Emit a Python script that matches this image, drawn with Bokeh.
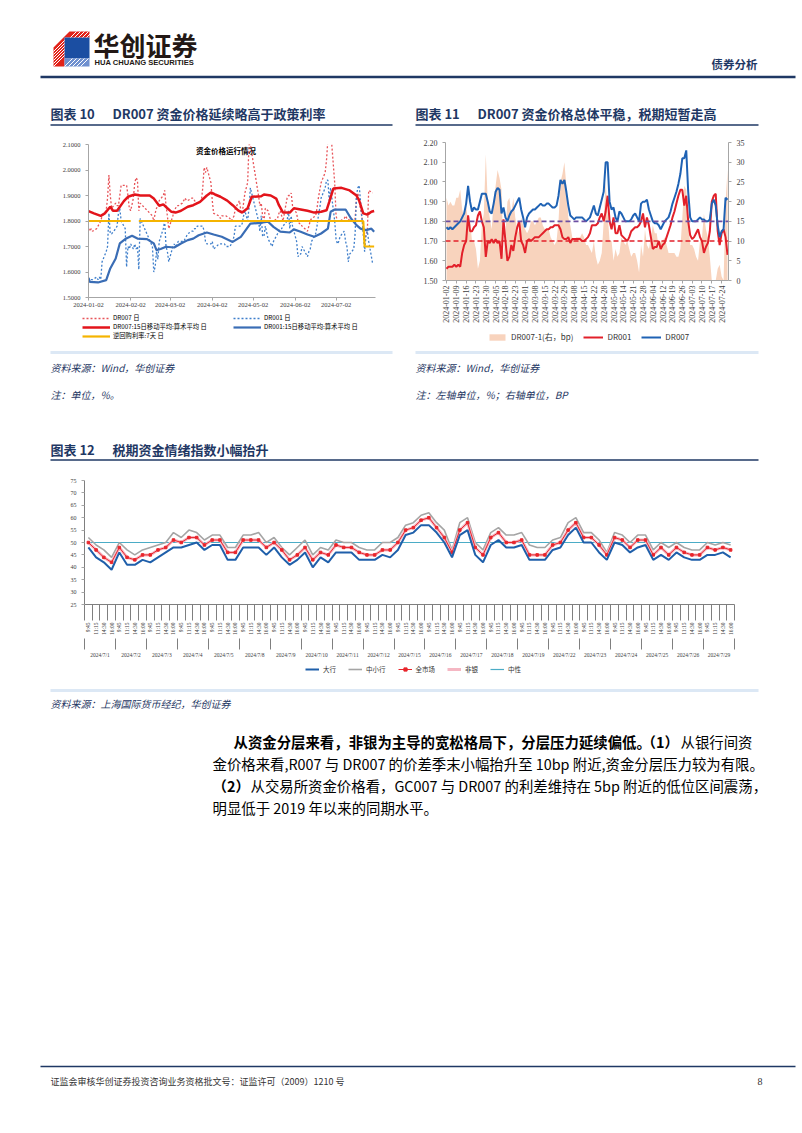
import math
import numpy as np
import pandas as pd
from bokeh.plotting import figure
from bokeh.models import (Range1d, LinearAxis, FixedTicker, Legend, LegendItem, Span,
                          DatetimeTickFormatter, NumeralTickFormatter, Label)
from bokeh.layouts import column, row
from bokeh.embed import file_html
from bokeh.resources import INLINE
from bokeh.core.properties import value

# ------------------------------------------------------------------ data
holidays = ["2024-02-12", "2024-02-13", "2024-02-14", "2024-02-15", "2024-02-16",
            "2024-04-04", "2024-04-05", "2024-05-01", "2024-05-02", "2024-05-03", "2024-06-10"]
makeup_days = ["2024-02-04", "2024-02-18", "2024-04-07", "2024-04-28", "2024-05-11"]

dr007 = [1.77, 1.76, 1.77, 1.76, 1.77, 1.78, 1.79, 1.80, 1.82, 1.84,
         1.89, 1.98, 1.90, 1.85, 1.87, 1.86, 1.86, 1.90, 1.94, 1.94,
         1.94, 1.90, 1.85, 1.84, 1.89, 1.95, 1.97, 1.96, 1.84, 1.87,
         1.82, 1.80, 1.83, 1.85, 1.86, 1.88, 1.90, 1.92, 1.86, 1.82,
         1.77, 1.82, 1.84, 1.85, 1.86, 1.86, 1.87, 1.88, 1.89, 1.88,
         1.88, 1.89, 1.89, 1.88, 1.87, 1.87, 1.88, 1.93, 2.01, 1.99,
         2.01, 1.95, 1.88, 1.83, 1.82, 1.81, 1.82, 1.82, 1.82, 1.82,
         1.81, 1.80, 1.81, 1.82, 1.85, 1.88, 1.84, 1.83, 1.87, 1.91,
         1.95, 2.10, 2.10, 1.90, 1.86, 1.87, 1.82, 1.80, 1.85, 1.84,
         1.82, 1.80, 1.80, 1.80, 1.81, 1.83, 1.84, 1.82, 1.80, 1.89,
         1.90, 1.90, 1.91, 1.86, 1.83, 1.80, 1.79, 1.79, 1.78, 1.76,
         1.78, 1.80, 1.81, 1.82, 1.85, 1.89, 1.92, 1.95, 1.99, 2.04,
         2.12, 2.12, 2.16, 1.95, 1.82, 1.80, 1.80, 1.80, 1.81, 1.82,
         1.81, 1.81, 1.80, 1.80, 1.81, 1.89, 1.91, 1.88, 1.78, 1.72,
         1.75, 1.76, 1.92, 1.91]

dr001 = [1.56, 1.57, 1.57, 1.57, 1.58, 1.57, 1.58, 1.57, 1.64, 1.68,
         1.70, 1.83, 1.75, 1.75, 1.77, 1.78, 1.83, 1.85, 1.80, 1.77,
         1.62, 1.70, 1.69, 1.71, 1.69, 1.71, 1.69, 1.70, 1.61, 1.81,
         1.70, 1.60, 1.62, 1.68, 1.65, 1.72, 1.77, 1.80, 1.70, 1.68,
         1.64, 1.70, 1.71, 1.70, 1.71, 1.72, 1.72, 1.72, 1.73, 1.74,
         1.75, 1.76, 1.76, 1.77, 1.77, 1.78, 1.78, 1.78, 1.76, 1.72,
         1.71, 1.71, 1.72, 1.69, 1.71, 1.71, 1.71, 1.71, 1.71, 1.70,
         1.70, 1.71, 1.72, 1.74, 1.78, 1.78, 1.78, 1.79, 1.82, 1.84,
         1.80, 1.85, 1.93, 1.80, 1.76, 1.82, 1.74, 1.74, 1.78, 1.73,
         1.72, 1.71, 1.70, 1.72, 1.75, 1.76, 1.77, 1.77, 1.78, 1.80,
         1.84, 1.77, 1.82, 1.78, 1.72, 1.66, 1.67, 1.67, 1.70, 1.66,
         1.68, 1.69, 1.72, 1.75, 1.78, 1.82, 1.85, 1.89, 1.93, 1.96,
         1.96, 1.88, 1.93, 1.80, 1.73, 1.71, 1.72, 1.74, 1.76, 1.72,
         1.70, 1.64, 1.67, 1.69, 1.75, 1.90, 1.93, 1.94, 1.75, 1.68,
         1.74, 1.76, 1.72, 1.63]

ma7_dates = ["2024-01-02", "2024-01-06", "2024-01-11", "2024-01-14", "2024-01-18", "2024-01-20",
             "2024-01-23", "2024-01-28", "2024-01-31", "2024-02-05", "2024-02-09", "2024-02-16",
             "2024-02-19", "2024-02-23", "2024-02-26", "2024-02-29", "2024-03-03", "2024-03-06",
             "2024-03-10", "2024-03-15", "2024-03-19", "2024-03-24", "2024-03-29", "2024-04-01",
             "2024-04-04", "2024-04-08", "2024-04-13", "2024-04-17", "2024-04-21", "2024-04-24",
             "2024-04-28", "2024-05-01", "2024-05-08", "2024-05-10", "2024-05-15", "2024-05-19",
             "2024-05-21", "2024-05-24", "2024-05-29", "2024-06-01", "2024-06-06", "2024-06-11",
             "2024-06-16", "2024-06-21", "2024-06-25", "2024-06-27", "2024-06-30", "2024-07-06",
             "2024-07-12", "2024-07-17", "2024-07-19", "2024-07-22", "2024-07-25", "2024-07-28",
             "2024-07-30"]
ma7_vals = [1.839, 1.830, 1.820, 1.830, 1.856, 1.840,
            1.840, 1.878, 1.895, 1.904, 1.900, 1.900,
            1.888, 1.860, 1.865, 1.850, 1.836, 1.833,
            1.840, 1.856, 1.862, 1.875, 1.900, 1.912,
            1.904, 1.895, 1.880, 1.862, 1.842, 1.833,
            1.850, 1.895, 1.897, 1.904, 1.900, 1.888,
            1.862, 1.833, 1.833, 1.850, 1.845, 1.840,
            1.833, 1.836, 1.842, 1.875, 1.927, 1.930,
            1.920, 1.900, 1.880, 1.830, 1.825, 1.836,
            1.839]

ma1_dates = ["2024-01-02", "2024-01-03", "2024-01-09", "2024-01-15", "2024-01-18", "2024-01-22",
             "2024-01-25", "2024-01-29", "2024-02-03", "2024-02-07", "2024-02-14", "2024-02-19",
             "2024-02-21", "2024-02-24", "2024-02-28", "2024-03-05", "2024-03-10", "2024-03-15",
             "2024-03-19", "2024-03-23", "2024-03-29", "2024-04-03", "2024-04-09", "2024-04-17",
             "2024-04-23", "2024-04-30", "2024-05-08", "2024-05-13", "2024-05-17", "2024-05-22",
             "2024-05-29", "2024-06-01", "2024-06-06", "2024-06-11", "2024-06-16", "2024-06-21",
             "2024-06-26", "2024-06-28", "2024-07-01", "2024-07-09", "2024-07-13", "2024-07-17",
             "2024-07-20", "2024-07-24", "2024-07-28", "2024-07-30"]
ma1_vals = [1.577, 1.561, 1.559, 1.568, 1.614, 1.653,
            1.712, 1.729, 1.742, 1.731, 1.729, 1.712,
            1.686, 1.690, 1.699, 1.696, 1.712, 1.725,
            1.731, 1.744, 1.755, 1.747, 1.738, 1.718,
            1.738, 1.790, 1.793, 1.797, 1.777, 1.758,
            1.755, 1.767, 1.758, 1.747, 1.738, 1.751,
            1.770, 1.836, 1.845, 1.845, 1.810, 1.784,
            1.770, 1.764, 1.770, 1.758]

rr_dates = ["2024-01-02", "2024-02-02", "2024-02-05", "2024-02-08", "2024-07-22", "2024-07-23", "2024-07-30"]
rr_vals = [1.80, 1.80, float("nan"), 1.80, 1.80, 1.70, 1.70]

c10_ticks = ["2024-01-02", "2024-02-02", "2024-03-02", "2024-04-02",
             "2024-05-02", "2024-06-02", "2024-07-02"]

policy_dr007 = 1.80
policy_dr001 = 1.70

c12_days = ["2024/7/1", "2024/7/2", "2024/7/3", "2024/7/4", "2024/7/5", "2024/7/8", "2024/7/9",
            "2024/7/10", "2024/7/11", "2024/7/12", "2024/7/15", "2024/7/16", "2024/7/17",
            "2024/7/18", "2024/7/19", "2024/7/22", "2024/7/23", "2024/7/24", "2024/7/25",
            "2024/7/26", "2024/7/29"]
c12_times = ["9:45", "11:15", "14:30", "16:00"]

big = [48, 44, 42, 39, 46, 41, 41, 43, 42, 44,
       46, 48, 48, 49, 50, 47, 49, 49, 43, 43,
       48, 48, 48, 45, 48, 44, 41, 43, 46, 40,
       44, 42, 46, 46, 46, 43, 43, 43, 45, 44,
       47, 53, 54, 57, 57, 54, 50, 44, 53, 55,
       45, 42, 49, 51, 48, 48, 49, 43, 43, 43,
       47, 48, 53, 56, 50, 50, 46, 43, 50, 49,
       46, 48, 49, 43, 45, 43, 46, 44, 43, 43,
       45, 45, 46, 44]
mid = [52, 49, 47, 44, 50, 47, 45, 47, 48, 49,
       50, 54, 52, 55, 54, 51, 53, 53, 48, 48,
       53, 53, 54, 50, 52, 48, 45, 48, 51, 45,
       48, 47, 51, 50, 50, 48, 47, 47, 50, 50,
       52, 57, 58, 61, 62, 58, 55, 47, 58, 60,
       50, 47, 54, 56, 53, 53, 54, 49, 48, 48,
       51, 52, 58, 60, 54, 54, 51, 46, 54, 53,
       50, 53, 53, 47, 50, 48, 50, 48, 47, 47,
       50, 49, 50, 49]
allm = [50, 47, 44, 42, 48, 44, 43, 45, 45, 47,
        48, 51, 50, 52, 52, 49, 51, 51, 46, 46,
        51, 51, 51, 48, 50, 47, 43, 45, 48, 43,
        46, 45, 49, 48, 48, 46, 45, 45, 47, 47,
        50, 55, 56, 59, 60, 56, 52, 46, 55, 58,
        48, 45, 52, 54, 50, 50, 51, 45, 45, 45,
        49, 50, 55, 58, 52, 52, 49, 45, 52, 51,
        48, 51, 51, 45, 48, 45, 48, 46, 45, 45,
        48, 47, 48, 47]
nonbank = [50, 47, 44, 42, 48, 44, 43, 45, 45, 47,
           48, 51, 50, 52, 52, 49, 51, 51, 46, 46,
           51, 51, 51, 48, 50, 47, 43, 45, 48, 43,
           46, 45, 49, 48, 48, 46, 45, 45, 47, 47,
           50, 55, 56, 59, 60, 56, 52, 46, 55, 58,
           48, 45, 52, 54, 50, 50, 51, 45, 45, 45,
           49, 50, 55, 58, 52, 52, 49, 45, 52, 51,
           48, 51, 51, 45, 48, 45, 48, 46, 45, 45,
           48, 47, 48, 47]
ref_level = 50

# ------------------------------------------------------------------ style
CJK = "Noto Sans CJK SC"
SERIF = "Liberation Serif"
NAVY = "#1F3864"
AX = "#A6A6A6"
LBL = "#404040"
PW = 802

ST_D7 = dict(line_color="#E8555A", line_width=1.3, line_dash="2 2")
ST_D1 = dict(line_color="#3F7FCB", line_width=1.3, line_dash="2 2")
ST_M7 = dict(line_color="#E3141B", line_width=2.5)
ST_M1 = dict(line_color="#3A6DB5", line_width=2.2)
ST_RR = dict(line_color="#F5B400", line_width=2.2)
ST_SP = dict(fill_color="#F8D3BD")
ST_L1 = dict(line_color="#E2202A", line_width=2)
ST_L7 = dict(line_color="#1F62B4", line_width=2)
ST_REF = dict(line_color="#4BACC6", line_width=1.2)
ST_MID = dict(line_color="#A5A5A5", line_width=1.6)
ST_NB = dict(line_color="#F5B7C3", line_width=3)
ST_ALL = dict(line_color="#E8262C", line_width=1)
ST_ALLM = dict(marker="square", size=2.5, fill_color="#E8262C", line_color="#E8262C")
ST_BIG = dict(line_color="#1F5FAA", line_width=2)

# legend-only strips draw their swatches from renderers whose points sit outside the visible range
OFF_X = [0.0, 1.0]
OFF_Y = [-5.0, -5.0]


def bare_fig(w, h, xr, yr):
    f = figure(width=w, height=h, x_range=xr, y_range=yr,
               output_backend="svg", toolbar_location=None,
               x_axis_location=None, y_axis_location=None, min_border=0,
               background_fill_color="white", border_fill_color="white",
               outline_line_color=None)
    f.grid.visible = False
    return f


def page_fig(y0, y1):
    return bare_fig(PW, y1 - y0, Range1d(0, PW), Range1d(y1, y0))


def txt(f, x, y, s, size, color="#000000", style="normal", font=CJK, align="left"):
    f.text(x=[x], y=[y], text=[s], text_font=value(font), text_font_size=size,
           text_color=color, text_font_style=style, text_baseline="middle", text_align=align)


def hline(f, x0, x1, y, color, width):
    f.segment(x0=[x0], y0=[y], x1=[x1], y1=[y], line_color=color, line_width=width)


def style_axis(ax, size="6.5px"):
    ax.axis_line_color = AX
    ax.major_tick_line_color = AX
    ax.major_tick_out = 3
    ax.major_tick_in = 0
    ax.minor_tick_line_color = None
    ax.major_label_text_font = SERIF
    ax.major_label_text_font_size = size
    ax.major_label_text_color = LBL


def legend(items, loc, font_size, glyph_w, orientation="vertical", spacing=0, standoff=3, color="#000000"):
    return Legend(items=items, location=loc, orientation=orientation,
                  label_text_font=CJK, label_text_font_size=font_size, label_text_color=color,
                  glyph_width=glyph_w, glyph_height=8, label_height=8, label_width=10,
                  label_standoff=standoff, spacing=spacing, padding=0, margin=0,
                  border_line_color=None, background_fill_alpha=0)


# ------------------------------------------------------------------ header (page y 0..130)
hdr = page_fig(0, 130)
hdr.patch(x=[53, 69, 89, 89, 64, 64, 53], y=[47, 31, 31, 37, 37, 66, 66], fill_color="#E2231A", line_color=None)
hdr.patch(x=[64, 89, 89, 64], y=[37, 37, 58, 58], fill_color="#1B4EA2", line_color=None)
hdr.patch(x=[64, 89, 89, 64], y=[58, 58, 66, 66], fill_color="#6F90CF", line_color=None)
hdr.segment(x0=[53] * 6, y0=[51, 54, 57, 60, 63, 66], x1=[64] * 6, y1=[40, 43, 46, 49, 52, 55],
            line_color="white", line_width=1)
hdr.segment(x0=[70, 74, 78, 82, 86], y0=[37] * 5, x1=[76, 80, 84, 88, 92], y1=[31] * 5,
            line_color="white", line_width=1)
hdr.segment(x0=[64, 68, 72, 76, 80], y0=[66] * 5, x1=[72, 76, 80, 84, 88], y1=[58] * 5,
            line_color="white", line_width=1)
txt(hdr, 93, 44, "华创证券", "26px", "#231815", "bold")
txt(hdr, 94, 62, "HUA CHUANG SECURITIES", "7.6px", "#231815", "bold", "Liberation Sans")
txt(hdr, 711, 63, "债券分析", "11.5px", NAVY, "bold")
hline(hdr, 40, 795, 76.5, NAVY, 2.5)
txt(hdr, 50, 113, "图表 10", "13px", NAVY, "bold")
txt(hdr, 112, 113, "DR007 资金价格延续略高于政策利率", "13px", NAVY, "bold")
txt(hdr, 415, 113, "图表 11", "13px", NAVY, "bold")
txt(hdr, 477, 113, "DR007 资金价格总体平稳，税期短暂走高", "13px", NAVY, "bold")
hline(hdr, 50, 392, 124.5, NAVY, 1.5)
hline(hdr, 415, 758, 124.5, NAVY, 1.5)

# ------------------------------------------------------------------ chart 10 (x 0..400, y 130..311)
days = (pd.bdate_range("2024-01-02", "2024-07-29")
        .difference(pd.to_datetime(holidays))
        .union(pd.to_datetime(makeup_days))
        .sort_values())

c10 = figure(width=400, height=181, x_axis_type="datetime",
             x_range=Range1d(pd.Timestamp("2024-01-02"), pd.Timestamp("2024-07-31")),
             y_range=Range1d(1.5, 2.1),
             min_border_left=88, min_border_right=25, min_border_top=14, min_border_bottom=14,
             output_backend="svg", toolbar_location=None, outline_line_color=None)
c10.grid.visible = False
c10.line(days, dr007, **ST_D7)
c10.line(days, dr001, **ST_D1)
c10.line(pd.to_datetime(ma7_dates), ma7_vals, **ST_M7)
c10.line(pd.to_datetime(ma1_dates), ma1_vals, **ST_M1)
c10.line(pd.to_datetime(rr_dates), rr_vals, **ST_RR)

c10.xaxis.ticker = FixedTicker(ticks=[pd.Timestamp(d).value / 1e6 for d in c10_ticks])
c10.xaxis.formatter = DatetimeTickFormatter(days="%Y-%m-%d", months="%Y-%m-%d", years="%Y-%m-%d")
c10.yaxis.ticker = FixedTicker(ticks=[1.5, 1.6, 1.7, 1.8, 1.9, 2.0, 2.1])
c10.yaxis.formatter = NumeralTickFormatter(format="0.0000")
style_axis(c10.xaxis[0])
style_axis(c10.yaxis[0])
c10.xaxis.major_label_standoff = 2
c10.add_layout(Label(x=pd.Timestamp("2024-04-12").value / 1e6, y=2.1, text="资金价格运行情况",
                     text_font=CJK, text_font_size="7.5px", text_font_style="bold",
                     text_align="center", text_baseline="top", text_color="#000000"))

# legend strip for chart 10 (page y 311..350)
l10 = bare_fig(400, 39, Range1d(0, 1), Range1d(0, 1))
g_d7 = l10.line(x=OFF_X, y=OFF_Y, **ST_D7)
g_m7 = l10.line(x=OFF_X, y=OFF_Y, **ST_M7)
g_rr = l10.line(x=OFF_X, y=OFF_Y, **ST_RR)
g_d1 = l10.line(x=OFF_X, y=OFF_Y, **ST_D1)
g_m1 = l10.line(x=OFF_X, y=OFF_Y, **ST_M1)
l10.add_layout(legend([LegendItem(label="DR007 日", renderers=[g_d7]),
                       LegendItem(label="DR007:15日移动平均:算术平均 日", renderers=[g_m7]),
                       LegendItem(label="逆回购利率:7天 日", renderers=[g_rr])],
                      (82, 10), "6.3px", 28))
l10.add_layout(legend([LegendItem(label="DR001 日", renderers=[g_d1]),
                       LegendItem(label="DR001:15日移动平均:算术平均 日", renderers=[g_m1])],
                      (233, 19), "6.3px", 28))

# ------------------------------------------------------------------ chart 11 (x 400..802, y 130..328)
idx = list(range(len(dr007)))
spread = np.clip((np.array(dr007) - np.array(dr001)) * 100, 0, None)

c11 = figure(width=402, height=198, x_range=Range1d(-0.5, len(idx) - 0.5), y_range=Range1d(1.5, 2.2),
             min_border_left=45, min_border_right=74, min_border_top=12, min_border_bottom=48,
             output_backend="svg", toolbar_location=None, outline_line_color=None)
c11.grid.visible = False
c11.extra_y_ranges = {"bp": Range1d(0, 35)}
c11.varea(x=idx, y1=0, y2=spread, y_range_name="bp", **ST_SP)
c11.add_layout(Span(location=policy_dr007, dimension="width", line_color="#6C4FA3",
                    line_width=1.6, line_dash="5 3"))
c11.add_layout(Span(location=policy_dr001, dimension="width", line_color="#E2202A",
                    line_width=1.6, line_dash="5 3"))
c11.line(idx, dr001, **ST_L1)
c11.line(idx, dr007, **ST_L7)

c11.yaxis.ticker = FixedTicker(ticks=[1.5, 1.6, 1.7, 1.8, 1.9, 2.0, 2.1, 2.2])
c11.yaxis.formatter = NumeralTickFormatter(format="0.00")
style_axis(c11.yaxis[0], "8px")
rax = LinearAxis(y_range_name="bp", ticker=FixedTicker(ticks=list(range(0, 36, 5))))
style_axis(rax, "8px")
c11.add_layout(rax, "right")
c11.xaxis.ticker = FixedTicker(ticks=list(range(0, len(idx), 5)))
c11.xaxis.major_label_overrides = {i: days[i].strftime("%Y-%m-%d") for i in range(0, len(idx), 5)}
c11.xaxis.major_label_orientation = math.pi / 2
style_axis(c11.xaxis[0], "8px")
c11.xaxis.major_label_standoff = 2

# legend strip for chart 11 (page y 328..350)
l11 = bare_fig(402, 22, Range1d(0, 1), Range1d(0, 1))
g_sp = l11.varea(x=OFF_X, y1=[-6.0, -6.0], y2=OFF_Y, **ST_SP)
g_l1 = l11.line(x=OFF_X, y=OFF_Y, **ST_L1)
g_l7 = l11.line(x=OFF_X, y=OFF_Y, **ST_L7)
l11.add_layout(legend([LegendItem(label="DR007-1(右，bp)", renderers=[g_sp]),
                       LegendItem(label="DR001", renderers=[g_l1]),
                       LegendItem(label="DR007", renderers=[g_l7])],
                      (87, 8), "8px", 20, orientation="horizontal", spacing=10, standoff=4,
                      color="#333333"))

# ------------------------------------------------------------------ middle (page y 350..470)
midf = page_fig(350, 470)
hline(midf, 50, 392, 352, "#DCE8F5", 3)
hline(midf, 415, 758, 352, "#DCE8F5", 3)
txt(midf, 50, 367, "资料来源：Wind，华创证券", "10px", NAVY, "italic")
txt(midf, 50, 394, "注：单位，%。", "10px", NAVY, "italic")
txt(midf, 415, 367, "资料来源：Wind，华创证券", "10px", NAVY, "italic")
txt(midf, 415, 394, "注：左轴单位，%；右轴单位，BP", "10px", NAVY, "italic")
txt(midf, 50, 449, "图表 12", "13px", NAVY, "bold")
txt(midf, 112, 449, "税期资金情绪指数小幅抬升", "13px", NAVY, "bold")
hline(midf, 50, 758, 459.5, NAVY, 1.5)

# ------------------------------------------------------------------ chart 12 (page y 470..660)
n12 = len(big)
k = list(range(n12))
c12 = figure(width=PW, height=190, x_range=Range1d(-0.5, n12 - 0.5), y_range=Range1d(25, 75),
             min_border_left=84, min_border_right=68, min_border_top=10, min_border_bottom=27,
             x_axis_location=None, output_backend="svg", toolbar_location=None,
             outline_line_color=None)
c12.grid.visible = False
c12.line(k, [ref_level] * n12, **ST_REF)
c12.line(k, mid, **ST_MID)
c12.line(k, nonbank, **ST_NB)
c12.line(k, allm, **ST_ALL)
c12.scatter(k, allm, **ST_ALLM)
c12.line(k, big, **ST_BIG)

c12.yaxis.ticker = FixedTicker(ticks=list(range(25, 80, 5)))
style_axis(c12.yaxis[0], "6px")
c12.yaxis.axis_line_color = "#7F7F7F"

axA = LinearAxis(ticker=FixedTicker(ticks=k, minor_ticks=[i - 0.5 for i in range(n12 + 1)]),
                 major_label_overrides={i: c12_times[i % 4] for i in k})
style_axis(axA, "5.5px")
axA.major_tick_out = 0
axA.minor_tick_line_color = "#7F7F7F"
axA.minor_tick_out = 16
axA.minor_tick_in = 0
axA.axis_line_color = "#7F7F7F"
axA.major_label_orientation = math.pi / 2
axA.major_label_standoff = 2
c12.add_layout(axA, "below")

grp_centers = [4 * d + 1.5 for d in range(len(c12_days))]
axB = LinearAxis(ticker=FixedTicker(ticks=grp_centers,
                                    minor_ticks=[4 * d - 0.5 for d in range(len(c12_days) + 1)]),
                 major_label_overrides={c: lab for c, lab in zip(grp_centers, c12_days)})
style_axis(axB, "5.5px")
axB.major_tick_out = 0
axB.axis_line_color = None
axB.minor_tick_line_color = "#7F7F7F"
axB.minor_tick_out = 11
axB.minor_tick_in = 0
axB.major_label_standoff = 2
c12.add_layout(axB, "below")

# legend strip for chart 12 (page y 660..688)
l12 = bare_fig(PW, 28, Range1d(0, 1), Range1d(0, 1))
g_big = l12.line(x=OFF_X, y=OFF_Y, **ST_BIG)
g_mid = l12.line(x=OFF_X, y=OFF_Y, **ST_MID)
g_all = l12.line(x=OFF_X, y=OFF_Y, **ST_ALL)
g_allm = l12.scatter(x=OFF_X, y=OFF_Y, **ST_ALLM)
g_nb = l12.line(x=OFF_X, y=OFF_Y, **ST_NB)
g_ref = l12.line(x=OFF_X, y=OFF_Y, **ST_REF)
l12.add_layout(legend([LegendItem(label="大行", renderers=[g_big]),
                       LegendItem(label="中小行", renderers=[g_mid]),
                       LegendItem(label="全市场", renderers=[g_all, g_allm]),
                       LegendItem(label="非银", renderers=[g_nb]),
                       LegendItem(label="中性", renderers=[g_ref])],
                      (305, 14), "6.5px", 14, orientation="horizontal", spacing=12, standoff=4,
                      color="#333333"))

# ------------------------------------------------------------------ bottom (page y 688..1133)
bot = page_fig(688, 1133)
hline(bot, 50, 758, 690, "#DCE8F5", 3)
txt(bot, 50, 703, "资料来源：上海国际货币经纪，华创证券", "10px", NAVY, "italic")
FS = "14.4px"
txt(bot, 233, 741, "从资金分层来看，非银为主导的宽松格局下，分层压力延续偏低。", FS, "#000000", "bold")
txt(bot, 641, 741, "（1）", FS, "#000000", "bold")
txt(bot, 680, 741, "从银行间资", FS, "#000000")
txt(bot, 212, 763, "金价格来看,R007 与 DR007 的价差季末小幅抬升至 10bp 附近,资金分层压力较为有限。", FS, "#000000")
txt(bot, 212, 785, "（2）", FS, "#000000", "bold")
txt(bot, 250, 785, "从交易所资金价格看，GC007 与 DR007 的利差维持在 5bp 附近的低位区间震荡，", FS, "#000000")
txt(bot, 212, 807, "明显低于 2019 年以来的同期水平。", FS, "#000000")
hline(bot, 40, 795, 1066, NAVY, 1.5)
txt(bot, 50, 1081, "证监会审核华创证券投资咨询业务资格批文号：证监许可（2009）1210 号", "9px", "#333333")
txt(bot, 757, 1081, "8", "10px", "#333333", font=SERIF)

page = column(row(hdr),
              row(column(row(c10), row(l10)), column(row(c11), row(l11))),
              row(midf),
              row(c12),
              row(l12),
              row(bot))
open("out.html", "w").write(file_html(page, INLINE))
